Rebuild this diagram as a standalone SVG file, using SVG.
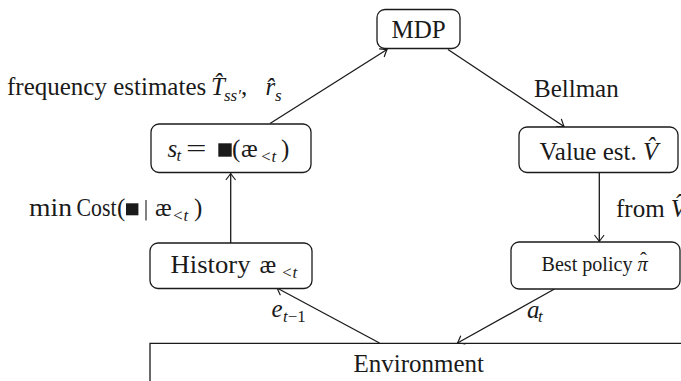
<svg xmlns="http://www.w3.org/2000/svg" width="681" height="381" viewBox="0 0 681 381">
  <style>
    .box { fill: #ffffff; stroke: #1a1a1a; stroke-width: 1.3; }
    .edge { fill: none; stroke: #1a1a1a; stroke-width: 1.3; }
    text { font-family: "Liberation Serif", "Times New Roman", serif; fill: #1a1a1a; font-size: 25px; }
    .sm { font-size: 20.5px; }
    .it { font-style: italic; }
    .up { font-style: normal; }
    .sub { font-size: 17px; font-style: italic; }
  </style>
  <defs>
    <marker id="head" viewBox="-8 -6 10 12" markerWidth="10" markerHeight="12" refX="0" refY="0" orient="auto" markerUnits="userSpaceOnUse">
      <path d="M -6 -4.5 Q -1.5 -1 0 0 Q -1.5 1 -6 4.5" fill="none" stroke="#1a1a1a" stroke-width="1.2" stroke-linecap="round"/>
    </marker>
  </defs>

  <!-- connectors -->
  <g id="connectors">
    <line class="edge" x1="270" y1="123.5" x2="387" y2="49.5" marker-end="url(#head)"/>
    <line class="edge" x1="448" y1="49.5" x2="564" y2="126.5" marker-end="url(#head)"/>
    <line class="edge" x1="230.7" y1="243" x2="230.7" y2="173.5" marker-end="url(#head)"/>
    <line class="edge" x1="599.3" y1="172.5" x2="599.3" y2="241.5" marker-end="url(#head)"/>
    <line class="edge" x1="554.5" y1="289" x2="457.5" y2="343" marker-end="url(#head)"/>
    <line class="edge" x1="379.5" y1="343" x2="277" y2="288" marker-end="url(#head)"/>
  </g>

  <!-- edge labels -->
  <g id="edge-labels">
    <text x="7" y="95">frequency estimates</text>
    <text class="it" x="211" y="95">T̂</text>
    <text class="sub" x="224" y="100.5">ss′</text>
    <text x="241" y="95">,</text>
    <text class="it" x="265.5" y="95">r̂</text>
    <text class="sub" x="275" y="100.5">s</text>

    <text x="534" y="96.5">Bellman</text>

    <text x="29" y="215.5" textLength="43" lengthAdjust="spacingAndGlyphs">min</text>
    <text x="76.5" y="215.5" textLength="40" lengthAdjust="spacingAndGlyphs">Cost</text>
    <text x="117" y="215.5">(</text>
    <rect x="126" y="203.3" width="12.4" height="12" fill="#1a1a1a"/>
    <line x1="146" y1="200" x2="146" y2="220.5" stroke="#1a1a1a" stroke-width="1.1"/>
    <text x="155" y="215.5">æ</text>
    <text class="sub up" x="172" y="221">&lt;<tspan class="it">t</tspan></text>
    <text x="194" y="215.5">)</text>

    <text x="616" y="216.5">from <tspan class="it">V̂</tspan></text>

    <text class="it" x="271.5" y="317">e</text>
    <text class="sub" x="283" y="322">t<tspan class="up">−1</tspan></text>

    <text class="it" x="527" y="318">a</text>
    <text class="sub" x="538" y="322">t</text>
  </g>

  <!-- nodes -->
  <g id="mdp">
    <rect class="box" x="377" y="9.5" width="83" height="39" rx="8"/>
    <text x="418.5" y="38" text-anchor="middle">MDP</text>
  </g>

  <g id="state">
    <rect class="box" x="151" y="124" width="160" height="48.5" rx="8"/>
    <text class="it" x="167.5" y="156.5">s</text>
    <text class="sub" x="176.5" y="161">t</text>
    <text x="186" y="156.5" textLength="20.5" lengthAdjust="spacingAndGlyphs">=</text>
    <rect x="218.3" y="143.3" width="13.4" height="13.4" fill="#1a1a1a"/>
    <text x="232" y="156.5">(</text>
    <text x="241" y="156.5">æ</text>
    <text class="sub up" x="260" y="162">&lt;<tspan class="it">t</tspan></text>
    <text x="281" y="156.5">)</text>
  </g>

  <g id="value">
    <rect class="box" x="519" y="127" width="159" height="45.5" rx="8"/>
    <text x="539.5" y="159.5">Value est. <tspan class="it">V̂</tspan></text>
  </g>

  <g id="history">
    <rect class="box" x="150" y="243" width="162" height="45.5" rx="8"/>
    <text x="170.5" y="272.5" textLength="80" lengthAdjust="spacingAndGlyphs">History</text>
    <text x="259.5" y="272.5">æ</text>
    <text class="sub up" x="281" y="278">&lt;<tspan class="it">t</tspan></text>
  </g>

  <g id="policy">
    <rect class="box" x="511" y="242" width="169" height="47" rx="8"/>
    <text class="sm" x="541.5" y="271" textLength="91" lengthAdjust="spacingAndGlyphs">Best policy</text>
    <text class="sm it" x="637.5" y="271">π</text>
    <text class="sm" x="640" y="266.5">ˆ</text>
  </g>

  <g id="environment">
    <path class="edge" d="M 150 381 L 150 343.3 L 681 343.3"/>
    <text x="353.5" y="372">Environment</text>
  </g>
</svg>
